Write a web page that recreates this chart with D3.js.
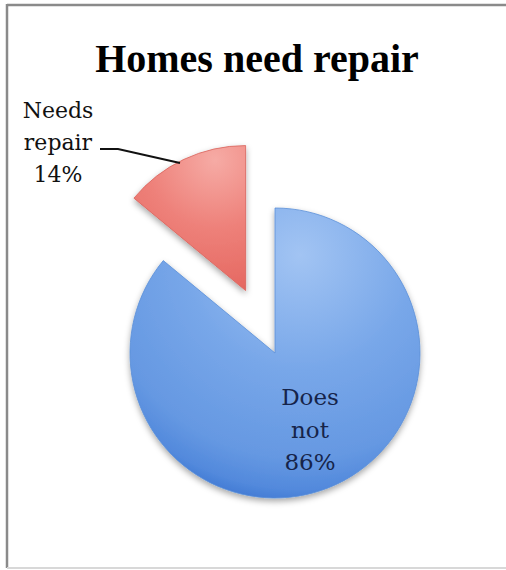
<!DOCTYPE html>
<html>
<head>
<meta charset="utf-8">
<script src="https://cdn.jsdelivr.net/npm/d3@7"></script>
<style>
  body { margin: 0; background: #fff; }
  svg { display: block; }
</style>
</head>
<body>
<div id="chart"></div>
<script>
// data
let categories = ["Does not", "Needs repair"];
let values = [86, 14];
let labelLines = [["Does", "not", "86%"], ["Needs", "repair", "14%"]];
let title = "Homes need repair";

let width = 506;
let height = 570;
let cx = 275, cy = 353, radius = 145;
let explode = [0, 69];

let svg = d3.select("#chart").append("svg")
    .attr("width", width)
    .attr("height", height);

// frame
svg.append("rect").attr("x", 0).attr("y", 0).attr("width", width).attr("height", height).attr("fill", "#fff");
svg.append("line").attr("x1", 7).attr("x2", width).attr("y1", 5).attr("y2", 5)
    .attr("stroke", "#8a8a8a").attr("stroke-width", 2.5);
svg.append("line").attr("x1", 7).attr("x2", 7).attr("y1", 4).attr("y2", 568)
    .attr("stroke", "#8a8a8a").attr("stroke-width", 2.5);
svg.append("line").attr("x1", 7).attr("x2", width).attr("y1", 568).attr("y2", 568)
    .attr("stroke", "#d8d8d8").attr("stroke-width", 2);

let defs = svg.append("defs");

let pie = d3.pie().sort(null).value(d => d);
let arcs = pie(values);
let arc = d3.arc().innerRadius(0).outerRadius(radius);

function offset(d, i) {
  let mid = (d.startAngle + d.endAngle) / 2;
  return [Math.sin(mid) * explode[i], -Math.cos(mid) * explode[i]];
}

// slice gradients (radial, light near the top, darker rim); centres in page coords
let gradDefs = [
  {x: 300, y: 255, r: 255, stops: [["0%", "#a2c4f3"], ["45%", "#78a7e9"], ["80%", "#6598e2"], ["92%", "#5289dc"], ["100%", "#3a73d0"]]},
  {x: 215, y: 160, r: 150, stops: [["0%", "#f6aba5"], ["45%", "#ee817a"], ["85%", "#e66a63"], ["100%", "#d2514b"]]}
];
gradDefs.forEach((gd, i) => {
  let o = offset(arcs[i], i);
  let grad = defs.append("radialGradient")
      .attr("id", "grad" + i)
      .attr("gradientUnits", "userSpaceOnUse")
      .attr("cx", gd.x - cx - o[0]).attr("cy", gd.y - cy - o[1]).attr("r", gd.r);
  gd.stops.forEach(s => grad.append("stop").attr("offset", s[0]).attr("stop-color", s[1]));
});

let shadow = defs.append("filter").attr("id", "shadow")
    .attr("x", "-20%").attr("y", "-20%").attr("width", "140%").attr("height", "140%");
shadow.append("feDropShadow")
    .attr("dx", 0).attr("dy", 3).attr("stdDeviation", 3)
    .attr("flood-color", "#000").attr("flood-opacity", 0.35);

let g = svg.append("g").attr("transform", "translate(" + cx + "," + cy + ")");

g.selectAll("path.slice")
  .data(arcs)
  .enter().append("path")
    .attr("class", "slice")
    .attr("d", arc)
    .attr("transform", (d, i) => {
      let o = offset(d, i);
      return "translate(" + o[0] + "," + o[1] + ")";
    })
    .attr("fill", (d, i) => "url(#grad" + i + ")")
    .attr("stroke", (d, i) => i == 0 ? "#5a8fd8" : "#d8625b")
    .attr("stroke-width", 0.8)
    .attr("filter", "url(#shadow)");

// title
svg.append("text")
    .attr("x", 257)
    .attr("y", 72)
    .attr("text-anchor", "middle")
    .style("font-family", "'Liberation Serif', serif")
    .style("font-weight", "bold")
    .style("font-size", "40px")
    .attr("fill", "#000")
    .text(title);

// label for "Does not" inside the slice
let inLabel = svg.append("text")
    .attr("text-anchor", "middle")
    .style("font-family", "'DejaVu Serif', serif")
    .style("font-size", "23px")
    .attr("fill", "#16244a");
labelLines[0].forEach((t, j) => {
  inLabel.append("tspan").attr("x", 310).attr("y", 405 + j * 32.5).text(t);
});

// label for "Needs repair" outside with leader line
let outLabel = svg.append("text")
    .attr("text-anchor", "middle")
    .style("font-family", "'DejaVu Serif', serif")
    .style("font-size", "22px")
    .attr("fill", "#111");
labelLines[1].forEach((t, j) => {
  outLabel.append("tspan").attr("x", 58).attr("y", 118 + j * 32).text(t);
});

svg.append("path")
    .attr("d", d3.line()([[100, 149], [118, 149], [180, 163]]))
    .attr("fill", "none")
    .attr("stroke", "#111")
    .attr("stroke-width", 2);
</script>
</body>
</html>
